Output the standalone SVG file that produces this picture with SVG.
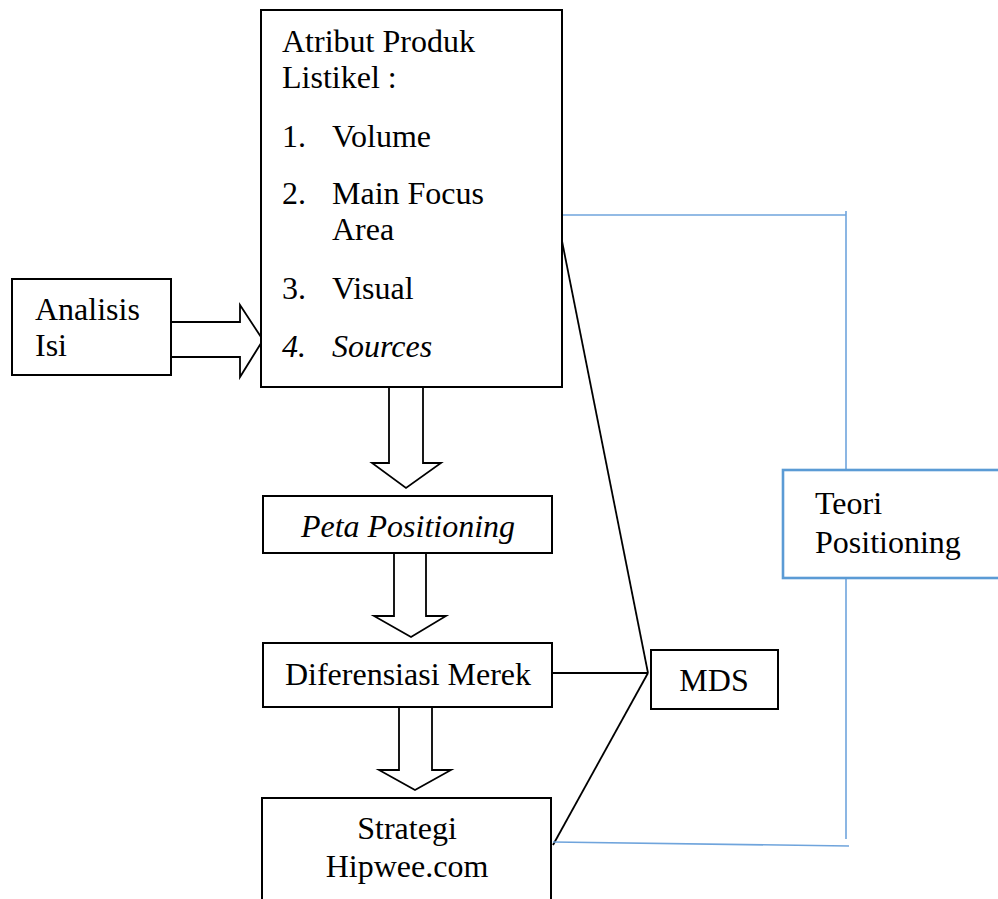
<svg xmlns="http://www.w3.org/2000/svg" width="998" height="899" viewBox="0 0 998 899">
<style>
.box{fill:#fff;stroke:#000;stroke-width:2}
.arr{fill:#fff;stroke:#000;stroke-width:1.8;stroke-linejoin:miter}
text{font-size:32px;fill:#000}
.i{font-style:italic}
.c{text-anchor:middle}
.ln{stroke:#000;stroke-width:1.8;fill:none}
.bl{stroke:#6FA4DC;stroke-width:1.6;fill:none}
</style>
<rect width="998" height="899" fill="#fff"/>
<g id="connectors">
<line class="ln" x1="552" y1="673" x2="648" y2="673"/>
<line class="ln" x1="557" y1="216" x2="648" y2="673"/>
<line class="ln" x1="553" y1="845" x2="648" y2="673"/>
<polyline class="bl" points="557,215 846,215"/>
<line class="bl" x1="846" y1="211" x2="846" y2="470"/>
<line class="bl" x1="846" y1="578" x2="846" y2="839"/>
<line class="bl" x1="553" y1="842" x2="849" y2="846"/>
<path id="arrow-right" class="arr" d="M171,322 H240 V305 L263,340 L240,377 V357 H171 Z"/>
<path id="arrow-down-1" class="arr" d="M389,387 V463 H372 L406,488 L441,463 H423 V387 Z"/>
<path id="arrow-down-2" class="arr" d="M394,553 V616 H374 L411,637 L446,616 H426 V553 Z"/>
<path id="arrow-down-3" class="arr" d="M399,707 V770 H379 L415,790 L451,770 H432 V707 Z"/>
</g>
<g font-family="'Liberation Serif', 'DejaVu Serif', serif">
<g id="analisis">
<rect class="box" x="12" y="279" width="159" height="96"/>
<text x="35" y="320">Analisis</text>
<text x="35" y="356">Isi</text>
</g>
<g id="atribut">
<rect class="box" x="261" y="10" width="301" height="377"/>
<text x="282" y="52">Atribut Produk</text>
<text x="282" y="88">Listikel :</text>
<text x="282" y="147">1.</text><text x="332" y="147">Volume</text>
<text x="282" y="204">2.</text><text x="332" y="204">Main Focus</text>
<text x="332" y="240">Area</text>
<text x="282" y="299">3.</text><text x="332" y="299">Visual</text>
<text class="i" x="282" y="357">4.</text><text class="i" x="332" y="357">Sources</text>
</g>
<g id="peta">
<rect class="box" x="263" y="496" width="289" height="57"/>
<text class="i c" x="408" y="537">Peta Positioning</text>
</g>
<g id="diferensiasi">
<rect class="box" x="263" y="643" width="289" height="64"/>
<text class="c" x="408" y="685">Diferensiasi Merek</text>
</g>
<g id="strategi">
<rect class="box" x="262" y="798" width="289" height="120"/>
<text class="c" x="407" y="839">Strategi</text>
<text class="c" x="407" y="877">Hipwee.com</text>
</g>
<g id="mds">
<rect class="box" x="651" y="650" width="127" height="59"/>
<text class="c" x="714" y="691">MDS</text>
</g>
<g id="teori">
<rect x="783" y="470" width="230" height="108" fill="#fff" stroke="#5B9BD5" stroke-width="2.6"/>
<text x="815" y="514">Teori</text>
<text x="815" y="553">Positioning</text>
</g>
</g>
</svg>
